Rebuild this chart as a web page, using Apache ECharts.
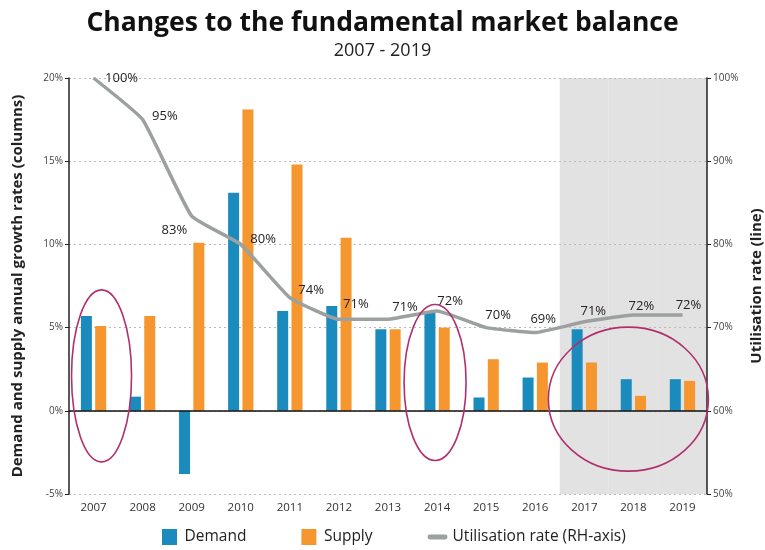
<!DOCTYPE html>
<html><head><meta charset="utf-8">
<script src="https://cdn.jsdelivr.net/npm/echarts@6/dist/echarts.min.js"></script>
<style>html,body{margin:0;padding:0;background:#fff}#c{width:765px;height:550px}</style>
</head><body><div id="c"></div>
<script>
// ---- data ----
const years = ['2007','2008','2009','2010','2011','2012','2013','2014','2015','2016','2017','2018','2019'];
const demand = [5.7, 0.85, -3.8, 13.1, 6.0, 6.3, 4.9, 6.0, 0.8, 2.0, 4.9, 1.9, 1.9];
const supply = [5.1, 5.7, 10.1, 18.1, 14.8, 10.4, 4.9, 5.0, 3.1, 2.9, 2.9, 0.9, 1.8];
const utilisation = [100, 95, 83.4, 80, 73.6, 71, 71, 72, 70, 69.4, 70.7, 71.5, 71.5];
const utilLabels = ['100%','95%','83%','80%','74%','71%','71%','72%','70%','69%','71%','72%','72%'];
const forecastYears = ['2017','2018','2019'];
const leftAxis = {min: -5, max: 20, interval: 5};
const rightAxis = {min: 50, max: 100, interval: 10};
// highlighted groups (category, value at centre)
const highlights = [
  {cat: '2007', val: 2.1},
  {cat: '2014', val: 1.7},
  {cat: '2018', val: 0.7}
];

// ---- styling ----
const FONT = "'Open Sans', 'Noto Sans', sans-serif";
const LINE_COLOR = '#9ca0a0';
const labelPos = ['right','right','left','right','right','top','top','top','top','top','top','top','top'];
const labelShift = [
  [6,0],[4,-3],[1,14],[4,-5],[3,-7],[17,-3],[17,0],[13,2],[12,0],[8,-1],[9,2],[8,3],[6,2]
];
const ellipseStyle = [
  {dx: 8, rx: 30, ry: 86},
  {dx: -2, rx: 31, ry: 78},
  {dx: -5, rx: 80, ry: 72}
];

const chart = echarts.init(document.getElementById('c'), null, {renderer: 'canvas'});

const utilData = utilisation.map((v, i) => ({
  value: v,
  label: {show: true, formatter: utilLabels[i], position: labelPos[i]}
}));

const option = {
  backgroundColor: '#fff',
  animation: false,
  textStyle: {fontFamily: FONT},
  title: {
    text: 'Changes to the fundamental market balance',
    subtext: '2007 - 2019',
    left: 'center', top: 5, itemGap: 5,
    textStyle: {fontFamily: FONT, fontSize: 26.5, fontWeight: 'bold', color: '#111'},
    subtextStyle: {fontFamily: FONT, fontSize: 18, color: '#222'}
  },
  grid: {left: 69, right: 58, top: 78, bottom: 56, containLabel: false, outerBoundsMode: 'none'},
  legend: {
    bottom: 0, left: 157, itemGap: 55, itemWidth: 20, itemHeight: 16,
    textStyle: {fontFamily: FONT, fontSize: 15.5, color: '#222'},
    data: [
      {name: 'Demand', icon: 'path://M0,0h15v16h-15z'},
      {name: 'Supply', icon: 'path://M0,0h15v16h-15z'},
      {name: 'Utilisation rate (RH-axis)', icon: 'path://M2,0h16a2,2,0,0,1,0,5h-16a2,2,0,0,1,0,-5z',
       itemStyle: {color: LINE_COLOR, opacity: 1}}
    ]
  },
  xAxis: [
    {
      type: 'category', data: years, boundaryGap: true,
      axisLine: {show: false, onZero: false},
      axisTick: {show: false},
      axisLabel: {fontSize: 11.5, color: '#333', margin: 8},
      splitLine: {show: false}
    },
    {type: 'category', data: years, show: false, boundaryGap: true}
  ],
  yAxis: [
    {
      type: 'value', min: leftAxis.min, max: leftAxis.max, interval: leftAxis.interval, position: 'left',
      name: 'Demand and supply annual growth rates (columns)', nameLocation: 'middle', nameGap: 44, nameRotate: 90,
      nameTextStyle: {fontFamily: FONT, fontSize: 15, fontWeight: 'bold', color: '#222'},
      axisLine: {show: true, lineStyle: {color: '#222', width: 1.5}},
      axisTick: {show: true, length: 4, lineStyle: {color: '#222'}},
      axisLabel: {formatter: '{value}%', fontSize: 10, color: '#444', margin: 6},
      splitLine: {show: true, lineStyle: {type: [2, 3], color: '#bbb', width: 1}}
    },
    {
      type: 'value', min: rightAxis.min, max: rightAxis.max, interval: rightAxis.interval, position: 'right',
      name: 'Utilisation rate (line)', nameLocation: 'middle', nameGap: 38, nameRotate: 90,
      nameTextStyle: {fontFamily: FONT, fontSize: 15, fontWeight: 'bold', color: '#222'},
      axisLine: {show: true, lineStyle: {color: '#222', width: 1.5}},
      axisTick: {show: true, length: 4, lineStyle: {color: '#222'}},
      axisLabel: {formatter: '{value}%', fontSize: 10, color: '#444', margin: 6},
      splitLine: {show: false}
    },
    {type: 'value', min: 0, max: 1, show: false}
  ],
  series: [
    {
      name: 'forecast', type: 'bar', xAxisIndex: 1, yAxisIndex: 2, z: -1, silent: true,
      barWidth: '100%', itemStyle: {color: '#e2e2e2'},
      data: years.map(y => forecastYears.includes(y) ? 1 : '-')
    },
    {
      name: 'Demand', type: 'bar', yAxisIndex: 0, data: demand,
      barWidth: 11, barGap: '30%', itemStyle: {color: '#1b8bbd'},
      markLine: {
        silent: true, symbol: 'none', label: {show: false},
        lineStyle: {color: '#111', type: 'solid', width: 1.5},
        data: [{yAxis: 0}]
      }
    },
    {
      name: 'Supply', type: 'bar', yAxisIndex: 0, data: supply,
      barWidth: 11, itemStyle: {color: '#f5962f'}
    },
    {
      name: 'Utilisation rate (RH-axis)', type: 'line', yAxisIndex: 1, data: utilData,
      smooth: 0.12, showSymbol: true, symbol: 'circle', symbolSize: 1,
      lineStyle: {color: LINE_COLOR, width: 3.5},
      itemStyle: {color: LINE_COLOR},
      label: {show: true, fontSize: 13, color: '#222', fontFamily: FONT},
      labelLayout: function (p) {
        const s = labelShift[p.dataIndex] || [0, 0];
        return {dx: s[0], dy: s[1], hideOverlap: false};
      },
      z: 5
    }
  ]
};
chart.setOption(option);

// ellipse annotations positioned through the chart's own scales
const ellipses = highlights.map((h, i) => {
  const p = chart.convertToPixel({xAxisIndex: 0, yAxisIndex: 0}, [h.cat, h.val]);
  const s = ellipseStyle[i];
  return {
    type: 'ellipse', silent: true, z: 10,
    shape: {cx: p[0] + s.dx, cy: p[1], rx: s.rx, ry: s.ry},
    style: {fill: null, stroke: '#b0306e', lineWidth: 1.6}
  };
});
chart.setOption({graphic: ellipses});
</script>
</body></html>
